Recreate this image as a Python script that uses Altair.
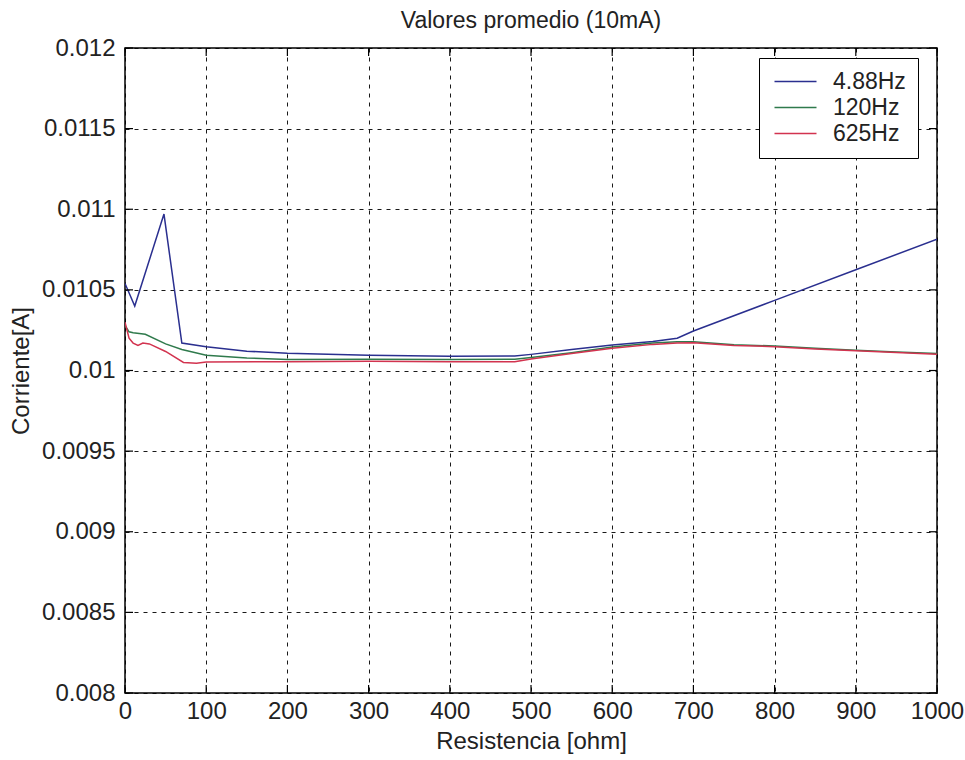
import altair as alt
import pandas as pd

# Series labels and line colours
series_names = ["4.88Hz", "120Hz", "625Hz"]
series_colors = ["#2a2f8f", "#2f7a4c", "#d2334f"]

# 4.88 Hz: resistance [ohm] and average current [A]
r_488 = [0, 12, 48, 70, 100, 150, 200, 300, 400, 480, 500, 550, 600, 650, 680,
         700, 800, 900, 1000]
i_488 = [0.01054, 0.01040, 0.01097, 0.01017, 0.010148, 0.01012, 0.010107,
         0.010095, 0.010088, 0.01009, 0.0101, 0.01013, 0.010158, 0.01018,
         0.0102, 0.010245, 0.010435, 0.010625, 0.010814]

# 120 Hz
r_120 = [0, 5, 10, 25, 50, 70, 100, 150, 200, 300, 400, 480, 500, 550, 600,
         650, 680, 700, 750, 800, 850, 900, 950, 1000]
i_120 = [0.01028, 0.01024, 0.010234, 0.010225, 0.010165, 0.01013, 0.010095,
         0.010078, 0.010068, 0.01007, 0.010068, 0.01007, 0.01008, 0.01011,
         0.010145, 0.01017, 0.010178, 0.010178, 0.01016, 0.010152, 0.010138,
         0.010125, 0.010115, 0.010105]

# 625 Hz
r_625 = [0, 5, 10, 16, 22, 30, 50, 72, 88, 100, 200, 300, 400, 480, 500, 550,
         600, 650, 680, 700, 750, 800, 850, 900, 950, 1000]
i_625 = [0.0103, 0.0102, 0.01017, 0.010155, 0.01017, 0.010165, 0.010118,
         0.01005, 0.010045, 0.010052, 0.010055, 0.010058, 0.010055, 0.010055,
         0.010072, 0.010105, 0.010138, 0.010162, 0.01017, 0.010172, 0.010155,
         0.010148, 0.010133, 0.010123, 0.010112, 0.0101]

# Axis tick values
x_ticks = [0, 100, 200, 300, 400, 500, 600, 700, 800, 900, 1000]
y_ticks = [0.008, 0.0085, 0.009, 0.0095, 0.01, 0.0105, 0.011, 0.0115, 0.012]

frames = []
for k, (name, rs, cs) in enumerate(zip(series_names, [r_488, r_120, r_625],
                                       [i_488, i_120, i_625])):
    frames.append(pd.DataFrame({"r": rs, "i": cs, "serie": name, "k": k}))
df = pd.concat(frames, ignore_index=True)
xt = pd.DataFrame({"r": x_ticks})
yt = pd.DataFrame({"i": y_ticks})

FONT = "Liberation Sans"
TXT = "#222222"
W, H = 812, 645
TICK = 8

# Shared position encodings (same axes in every layer so they merge)
X_ENC = alt.X("r:Q", scale=alt.Scale(domain=[0, 1000], nice=False),
              axis=alt.Axis(values=x_ticks, title="Resistencia [ohm]",
                            format="d", labelPadding=6, titlePadding=6,
                            labelFlush=False))
Y_ENC = alt.Y("i:Q", scale=alt.Scale(domain=[0.008, 0.012], nice=False,
                                     zero=False),
              axis=alt.Axis(values=y_ticks, title="Corriente[A]",
                            format="~g", labelPadding=10, titlePadding=8,
                            labelFlush=False))

lines = alt.Chart(df).mark_line(strokeWidth=1.5, clip=True).encode(
    x=X_ENC,
    y=Y_ENC,
    color=alt.Color("serie:N",
                    scale=alt.Scale(domain=series_names, range=series_colors),
                    legend=alt.Legend(title=None, orient="none",
                                      legendX=634, legendY=10,
                                      fillColor="white", strokeColor="black",
                                      padding=12,
                                      symbolType="M-2.1,0H2.1",
                                      symbolSize=400, symbolStrokeWidth=1.5,
                                      symbolOffset=13,
                                      labelFontSize=23, labelFont=FONT,
                                      labelColor=TXT, labelOffset=26,
                                      rowPadding=2)),
    order="k:Q",
)

# Inward tick marks on all four sides of the frame
tick_base_x = alt.Chart(xt).mark_rule(color="black", strokeWidth=1.2)
ticks_bottom = tick_base_x.encode(x=X_ENC, y=alt.value(H - TICK), y2=alt.value(H))
ticks_top = tick_base_x.encode(x=X_ENC, y=alt.value(0), y2=alt.value(TICK))
tick_base_y = alt.Chart(yt).mark_rule(color="black", strokeWidth=1.2)
ticks_left = tick_base_y.encode(y=Y_ENC, x=alt.value(0), x2=alt.value(TICK))
ticks_right = tick_base_y.encode(y=Y_ENC, x=alt.value(W - TICK), x2=alt.value(W))

chart = alt.layer(
    lines, ticks_bottom, ticks_top, ticks_left, ticks_right
).properties(
    width=W,
    height=H,
    title=alt.Title("Valores promedio (10mA)", fontSize=23, font=FONT,
                    fontWeight="normal", color=TXT, offset=3),
    padding={"left": 125, "top": 48, "right": 28, "bottom": 67},
    autosize="none",
).configure_view(
    stroke="black", strokeWidth=1.5
).configure_axis(
    grid=True, gridColor="black", gridDash=[4, 5], gridWidth=1,
    gridOpacity=0.9, domain=False, ticks=False,
    labelFont=FONT, labelFontSize=24, labelColor=TXT,
    titleFont=FONT, titleFontSize=24, titleColor=TXT,
    titleFontWeight="normal",
)

chart.save("out.html", embed_options={"renderer": "svg", "actions": False})
